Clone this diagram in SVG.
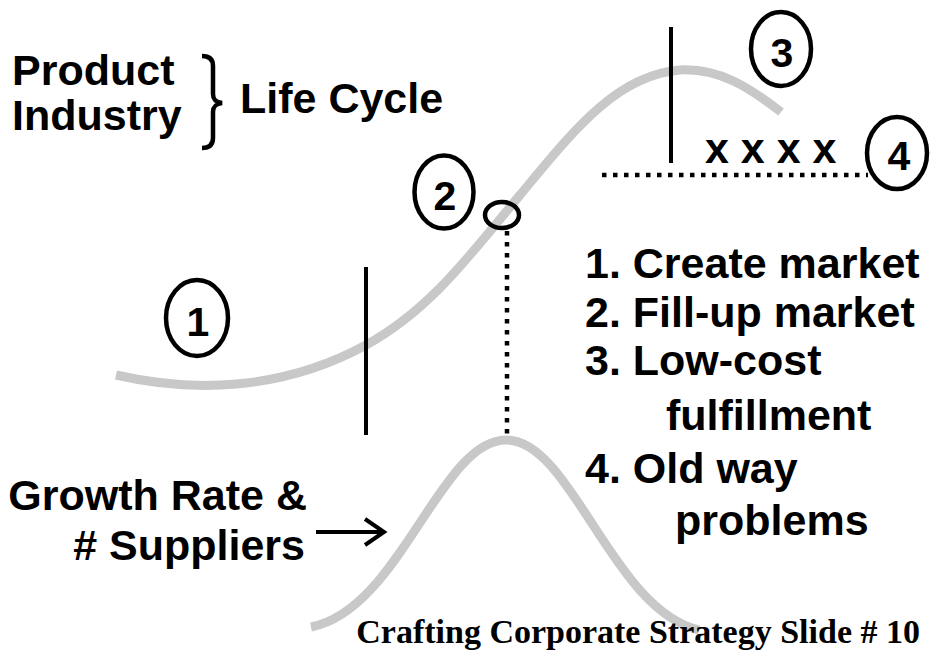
<svg xmlns="http://www.w3.org/2000/svg" width="933" height="650" viewBox="0 0 933 650">
<style>
.t{font-family:"Liberation Sans",Arial,sans-serif;font-weight:bold;font-size:43px;fill:#000}
.curve{fill:none;stroke:#c8c8c8;stroke-width:9}
.bar{stroke:#000;stroke-width:4;fill:none}
.dot{stroke:#000;stroke-width:4.5;stroke-dasharray:4.5 6.5;fill:none}
.ring{fill:none;stroke:#000;stroke-width:4.5}
.num{font-family:"Liberation Sans",Arial,sans-serif;font-weight:bold;font-size:41px;text-anchor:middle}
</style>
<rect width="933" height="650" fill="#fff"/>
<g id="curves">
<path class="curve" d="M116,375 C190,392 280,392 366,345 C430,310 470,255 520,195 C570,135 615,75 680,70 C720,68 750,88 781,112"/>
<path class="curve" d="M311,627 C400,610 440,440 506,440 C572,440 612,610 699,630"/>
</g>
<g id="connectors">
<line class="bar" x1="366" y1="267" x2="366" y2="435"/>
<line class="bar" x1="671" y1="27" x2="671" y2="163"/>
<line class="dot" x1="602" y1="175" x2="868" y2="175"/>
<line class="dot" x1="507" y1="231" x2="507" y2="437"/>
<path class="bar" d="M316,532 H383 M365,519 L384,532 L365,545"/>
</g>
<g id="title">
<text class="t" x="12" y="85">Product</text>
<text class="t" x="12" y="130">Industry</text>
<path fill="none" stroke="#000" stroke-width="4.5" d="M202,56 C210,56 213,60 213,66 L213,94 C213,100 216,102 222,103 C216,104 213,106 213,112 L213,138 C213,144 210,148 202,148"/>
<text class="t" x="240" y="113">Life Cycle</text>
</g>
<g id="marker">
<ellipse class="ring" cx="502" cy="215" rx="17" ry="13" stroke-width="4"/>
</g>
<g id="n1">
<ellipse class="ring" cx="197" cy="318" rx="31" ry="38"/>
<text class="num" x="198" y="336">1</text>
</g>
<g id="n2">
<ellipse class="ring" cx="444" cy="192" rx="29.5" ry="36.5"/>
<text class="num" x="445" y="210">2</text>
</g>
<g id="n3">
<ellipse class="ring" cx="781" cy="49" rx="30" ry="37"/>
<text class="num" x="782" y="67">3</text>
</g>
<g id="n4">
<ellipse class="ring" cx="897" cy="153" rx="30" ry="36"/>
<text class="num" x="899" y="170">4</text>
</g>
<g id="xs">
<text class="t" x="705" y="163">x x x x</text>
</g>
<g id="list">
<text class="t" x="585" y="278">1. Create market</text>
<text class="t" x="585" y="327">2. Fill-up market</text>
<text class="t" x="585" y="375">3. Low-cost</text>
<text class="t" x="666" y="430">fulfillment</text>
<text class="t" x="585" y="483">4. Old way</text>
<text class="t" x="675" y="535">problems</text>
</g>
<g id="growth">
<text class="t" x="307" y="510" text-anchor="end">Growth Rate &amp;</text>
<text class="t" x="305" y="560" text-anchor="end"># Suppliers</text>
</g>
<text x="920" y="643" font-family="'Liberation Serif','Times New Roman',serif" font-weight="bold" font-size="34" text-anchor="end">Crafting Corporate Strategy Slide #  10</text>
</svg>
